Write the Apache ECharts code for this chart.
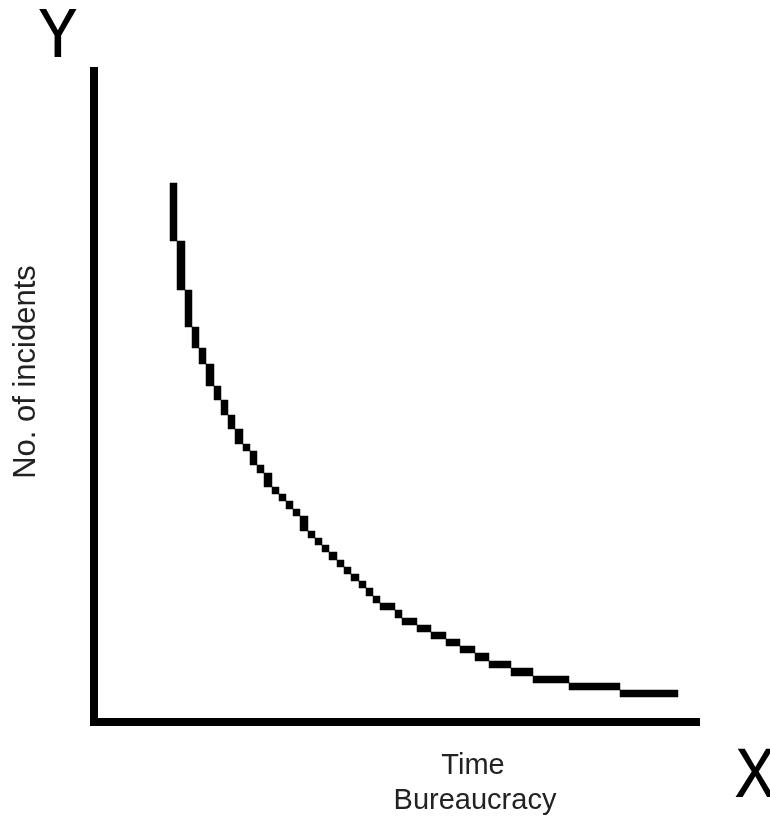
<!DOCTYPE html>
<html>
<head>
<meta charset="utf-8">
<script src="https://cdn.jsdelivr.net/npm/echarts@6/dist/echarts.min.js"></script>
<style>
html,body{margin:0;padding:0;background:#fff;}
#chart{width:770px;height:816px;}
</style>
</head>
<body>
<div id="chart"></div>
<script>
// Axis extents (arbitrary units, no ticks in the original)
const xMax = 602;
const yMax = 651;

// Stepped (pixelated) decay curve: each step = [xStart, xEnd, yLow, yHigh]
const curveSteps = [
  [76,83,481,539],
  [83,91,432,481],
  [91,98,395,432],
  [98,105,374,395],
  [105,112,358,374],
  [112,120,336,358],
  [120,127,322,336],
  [127,134,307,322],
  [134,141,293,307],
  [141,149,278,293],
  [149,156,271,278],
  [156,163,257,271],
  [163,170,249,257],
  [170,178,235,249],
  [178,185,228,235],
  [185,192,221,228],
  [192,199,213,221],
  [199,206,206,213],
  [206,214,191,206],
  [214,221,184,191],
  [221,228,177,184],
  [228,235,170,177],
  [235,243,162,170],
  [243,250,155,162],
  [250,257,148,155],
  [257,265,141,148],
  [265,272,134,141],
  [272,279,126,134],
  [279,286,119,126],
  [286,301,112,119],
  [301,308,104,112],
  [308,323,97,104],
  [323,337,90,97],
  [337,352,83,90],
  [352,366,76,83],
  [366,381,69,76],
  [381,395,61,69],
  [395,417,54,61],
  [417,439,46,54],
  [439,475,39,46],
  [475,526,32,39],
  [526,584,25,32]
];

const yAxisLetter = 'Y';
const xAxisLetter = 'X';
const yAxisTitle = 'No. of incidents';
const xAxisTitles = ['Time', 'Bureaucracy'];

const chart = echarts.init(document.getElementById('chart'), null, {renderer: 'canvas'});
const axisLineStyle = {color: '#000', width: 8, cap: 'square'};
const textFont = '"Liberation Sans", Arial, sans-serif';

chart.setOption({
  animation: false,
  backgroundColor: '#fff',
  grid: {left: 94, right: 74, top: 71, bottom: 94, containLabel: false},
  xAxis: {
    type: 'value', min: 0, max: xMax,
    axisLine: {show: true, onZero: false, lineStyle: axisLineStyle},
    axisTick: {show: false}, axisLabel: {show: false}, splitLine: {show: false}
  },
  yAxis: {
    type: 'value', min: 0, max: yMax,
    axisLine: {show: true, onZero: false, lineStyle: axisLineStyle},
    axisTick: {show: false}, axisLabel: {show: false}, splitLine: {show: false}
  },
  series: [{
    type: 'custom',
    data: curveSteps,
    clip: false,
    renderItem: function (params, api) {
      const p0 = api.coord([api.value(0), api.value(3)]);
      const p1 = api.coord([api.value(1), api.value(2)]);
      return {
        type: 'rect',
        shape: {x: p0[0], y: p0[1], width: p1[0] - p0[0], height: p1[1] - p0[1]},
        style: {fill: '#000', stroke: '#000', lineWidth: 0.5}
      };
    }
  }],
  graphic: [
    {
      type: 'text', left: 38, top: 7,
      style: {text: yAxisLetter, fill: '#000', font: 'normal 66px "DejaVu Sans Mono", monospace'}
    },
    {
      type: 'text', left: 735, top: 747,
      style: {text: xAxisLetter, fill: '#000', font: 'normal 66px "DejaVu Sans Mono", monospace'}
    },
    {
      type: 'text', x: 26, y: 372, rotation: Math.PI / 2,
      style: {text: yAxisTitle, fill: '#222', font: '31px ' + textFont, align: 'center', verticalAlign: 'middle'}
    },
    {
      type: 'text', x: 473, y: 766,
      style: {text: xAxisTitles[0], fill: '#222', font: '29px ' + textFont, align: 'center', verticalAlign: 'middle'}
    },
    {
      type: 'text', x: 475, y: 801,
      style: {text: xAxisTitles[1], fill: '#222', font: '29px ' + textFont, align: 'center', verticalAlign: 'middle'}
    }
  ]
});
</script>
</body>
</html>
